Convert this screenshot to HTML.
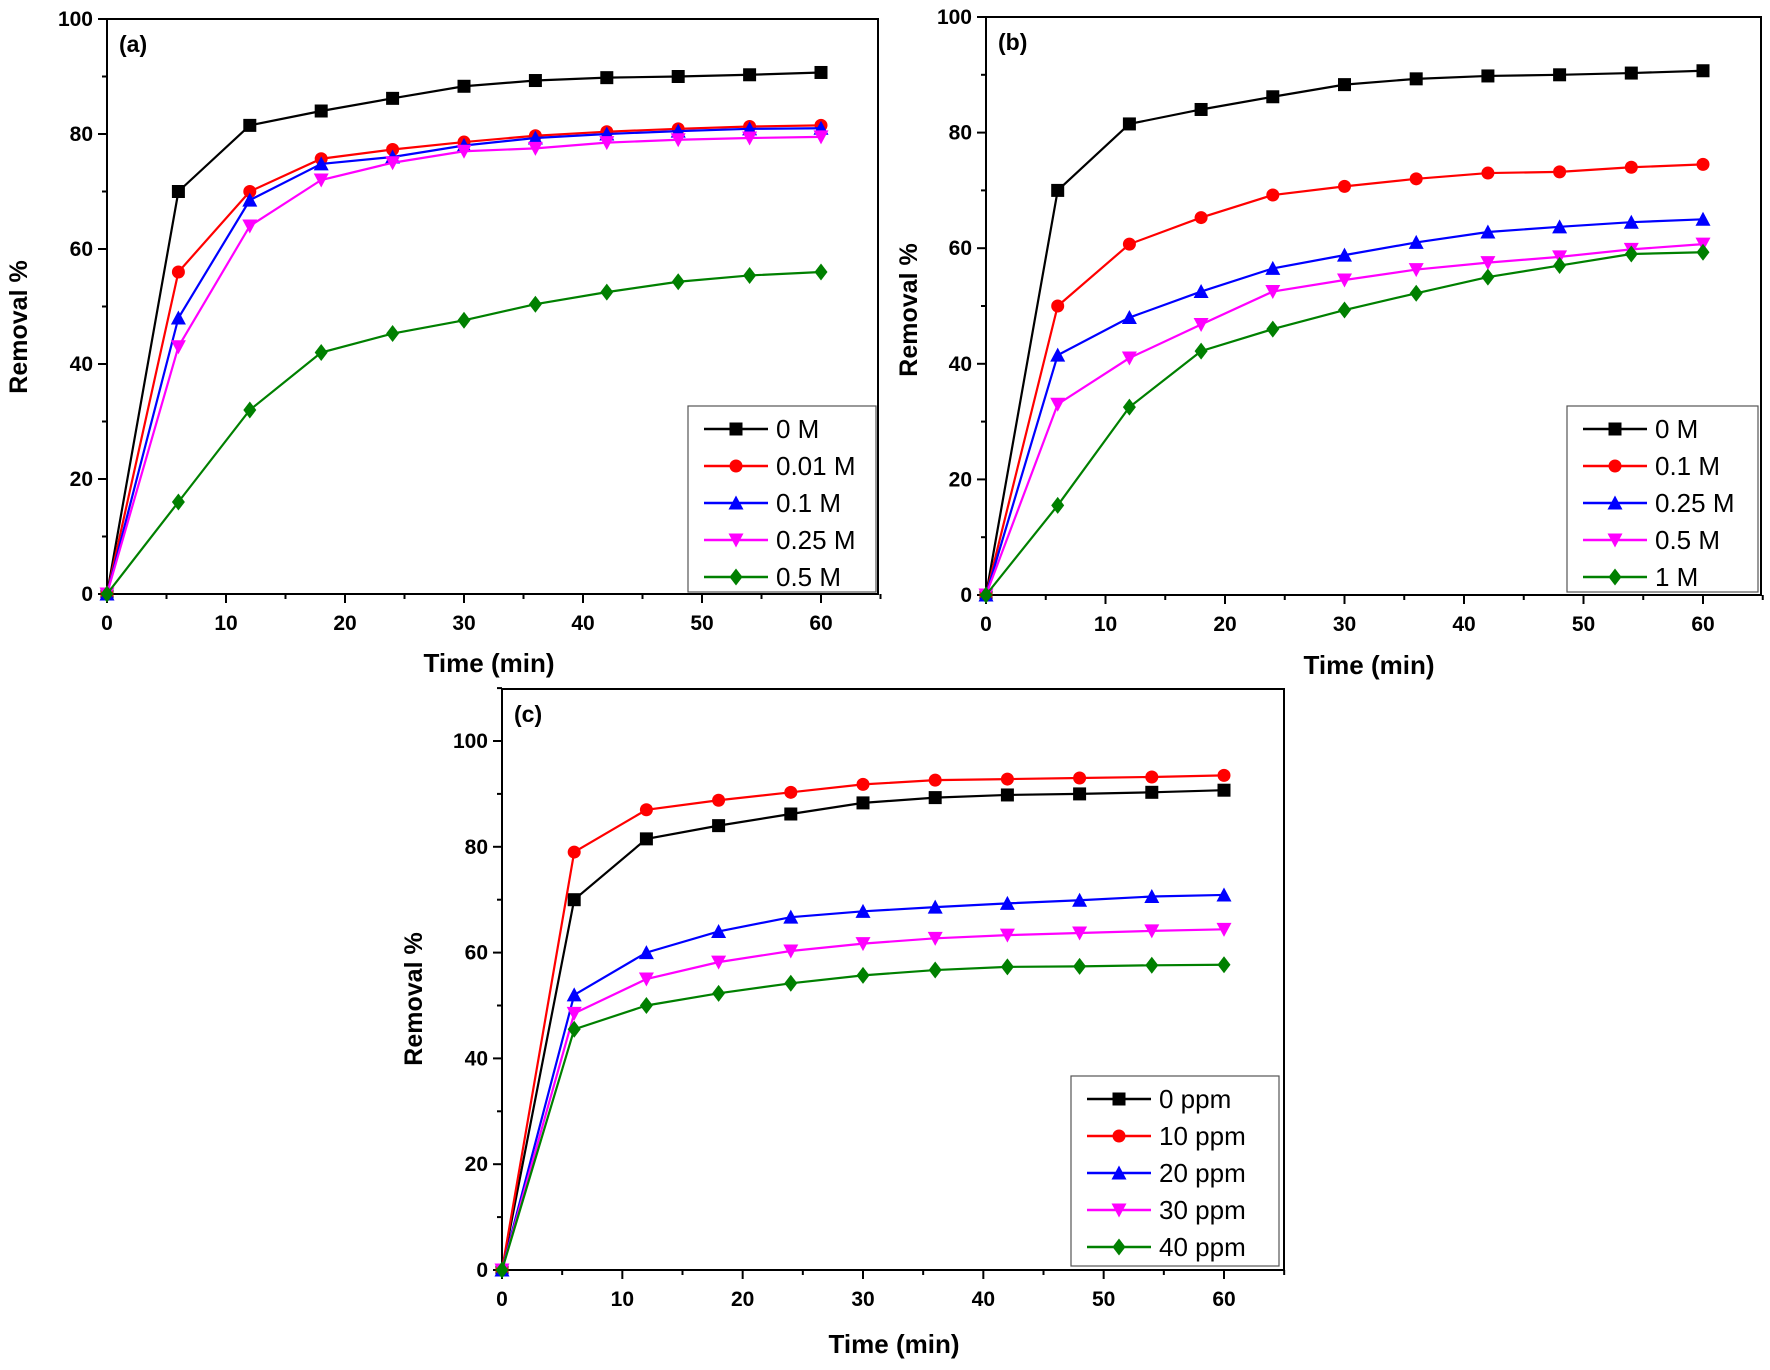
<!DOCTYPE html>
<html><head><meta charset="utf-8"><style>
html,body{margin:0;padding:0;background:#fff}
svg{display:block;font-family:"Liberation Sans",Arial,sans-serif}
</style></head><body>
<svg id="s" width="1770" height="1370" xmlns="http://www.w3.org/2000/svg"></svg>
<script>
const S=document.getElementById('s');let h='';
const T=[0,6,12,18,24,30,36,42,48,54,60];
const col={k:'#000',r:'#f00',b:'#00f',m:'#f0f',g:'#008000'};
function marker(t,x,y,c){const r=6.5;
 if(t=='sq')return `<rect x="${x-r}" y="${y-r}" width="${2*r}" height="${2*r}" fill="${c}"/>`;
 if(t=='ci')return `<circle cx="${x}" cy="${y}" r="${r}" fill="${c}"/>`;
 if(t=='up')return `<polygon points="${x},${y-r-1} ${x-r-1},${y+r} ${x+r+1},${y+r}" fill="${c}"/>`;
 if(t=='dn')return `<polygon points="${x},${y+r+1} ${x-r-1},${y-r} ${x+r+1},${y-r}" fill="${c}"/>`;
 return `<polygon points="${x},${y-r-2} ${x-r},${y} ${x},${y+r+2} ${x+r},${y}" fill="${c}"/>`;}
function panel(p){
 const {L,R,Tp,B,ymax,x60,y100,series,leg,lab,ylab,xlab}=p;
 const sx=v=>L+(x60-L)*v/60, sy=v=>B-(B-y100)*v/100;
 h+=`<rect x="${L}" y="${Tp}" width="${R-L}" height="${B-Tp}" fill="none" stroke="#000" stroke-width="2"/>`;
 for(let v=0;v<=65;v+=5){const x=sx(v);h+=`<line x1="${x}" y1="${B}" x2="${x}" y2="${B+(v%10?5:9)}" stroke="#000" stroke-width="2"/>`;
  if(v%10==0)h+=`<text x="${x}" y="${B+36}" font-size="21" font-weight="bold" text-anchor="middle">${v}</text>`;}
 for(let v=0;v<=ymax;v+=10){const y=sy(v);h+=`<line x1="${L}" y1="${y}" x2="${L-(v%20?5:9)}" y2="${y}" stroke="#000" stroke-width="2"/>`;
  if(v%20==0)h+=`<text x="${L-14}" y="${y+7}" font-size="21" font-weight="bold" text-anchor="end">${v}</text>`;}
 h+=`<text x="${L+12}" y="${Tp+33}" font-size="23" font-weight="bold">${lab}</text>`;
 h+=`<text transform="translate(${ylab[0]},${ylab[1]}) rotate(-90)" font-size="25" font-weight="bold" text-anchor="middle">Removal %</text>`;
 h+=`<text x="${xlab[0]}" y="${xlab[1]}" font-size="26" font-weight="bold" text-anchor="middle">Time (min)</text>`;
 series.forEach(s=>{const c=col[s.c];
  h+=`<polyline points="${T.map((t,i)=>sx(t)+','+sy(s.d[i])).join(' ')}" fill="none" stroke="${c}" stroke-width="2.2"/>`;
  T.forEach((t,i)=>h+=marker(s.m,sx(t),sy(s.d[i]),c));});
 const [lx,ly,lw,lh]=leg;h+=`<rect x="${lx}" y="${ly}" width="${lw}" height="${lh}" fill="#fff" stroke="#555" stroke-width="1.2"/>`;
 series.forEach((s,i)=>{const y=ly+23+i*37;const c=col[s.c];
  h+=`<line x1="${lx+16}" y1="${y}" x2="${lx+80}" y2="${y}" stroke="${c}" stroke-width="2.5"/>`+marker(s.m,lx+48,y,c);
  h+=`<text x="${lx+88}" y="${y+9}" font-size="26">${s.n}</text>`;});
}
const K=[0,70,81.5,84,86.2,88.3,89.3,89.8,90,90.3,90.7];
panel({L:107,R:878,Tp:19,B:594,ymax:100,x60:821,y100:19,lab:'(a)',ylab:[27,327],xlab:[489,672],leg:[688,406,188,186],
series:[{n:'0 M',c:'k',m:'sq',d:K},
{n:'0.01 M',c:'r',m:'ci',d:[0,56,70,75.7,77.3,78.6,79.7,80.4,80.9,81.3,81.5]},
{n:'0.1 M',c:'b',m:'up',d:[0,48,68.5,74.8,76,78,79.3,80,80.5,80.9,81]},
{n:'0.25 M',c:'m',m:'dn',d:[0,43,64,72,75,77,77.5,78.5,79,79.3,79.5]},
{n:'0.5 M',c:'g',m:'di',d:[0,16,32,42,45.3,47.6,50.4,52.5,54.3,55.4,56]}]});
panel({L:986,R:1761,Tp:17,B:595,ymax:100,x60:1703,y100:17,lab:'(b)',ylab:[917,310],xlab:[1369,674],leg:[1567,406,191,186],
series:[{n:'0 M',c:'k',m:'sq',d:K},
{n:'0.1 M',c:'r',m:'ci',d:[0,50,60.7,65.3,69.2,70.7,72,73,73.2,74,74.5]},
{n:'0.25 M',c:'b',m:'up',d:[0,41.5,48,52.5,56.5,58.8,61,62.8,63.7,64.5,65]},
{n:' 0.5 M',c:'m',m:'dn',d:[0,33,41,46.8,52.5,54.5,56.3,57.5,58.5,59.8,60.7]},
{n:'1 M',c:'g',m:'di',d:[0,15.5,32.5,42.2,46,49.3,52.2,55,57,59,59.3]}]});
panel({L:502,R:1284,Tp:689,B:1270,ymax:110,x60:1224,y100:741,lab:'(c)',ylab:[422,999],xlab:[894,1353],leg:[1071,1076,208,190],
series:[{n:'0 ppm',c:'k',m:'sq',d:K},
{n:'10 ppm',c:'r',m:'ci',d:[0,79,87,88.8,90.3,91.8,92.6,92.8,93,93.2,93.5]},
{n:'20 ppm',c:'b',m:'up',d:[0,52,60,64,66.7,67.8,68.6,69.3,69.9,70.6,70.9]},
{n:'30 ppm',c:'m',m:'dn',d:[0,48.5,55,58.2,60.3,61.7,62.7,63.3,63.7,64.1,64.4]},
{n:'40 ppm',c:'g',m:'di',d:[0,45.5,50,52.3,54.2,55.7,56.7,57.3,57.4,57.6,57.7]}]});
S.innerHTML=h;
</script>
</body></html>
